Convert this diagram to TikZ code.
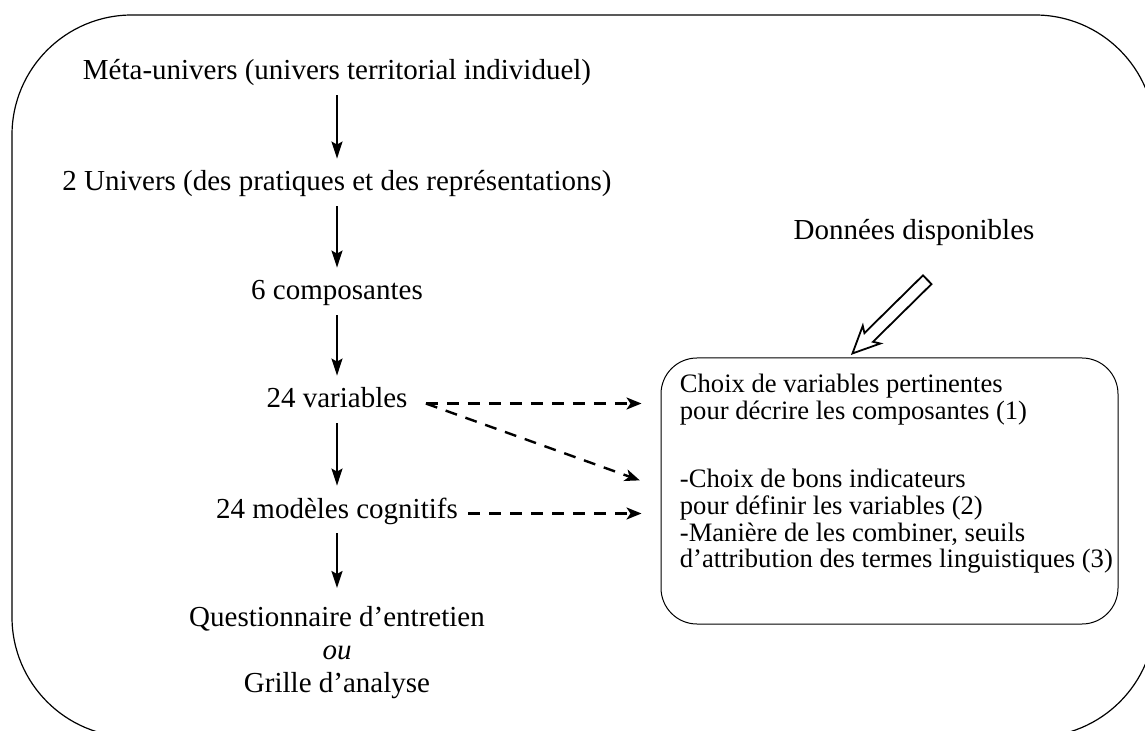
\documentclass[tikz,border=0pt]{standalone}
\usepackage{fontspec}
\setmainfont{Liberation Serif}
\usetikzlibrary{arrows.meta,shapes.arrows,positioning,calc}

\tikzset{
  level/.style={inner sep=0pt, text height=0.7em, text depth=0.25em,
    font=\fontsize{14.5}{16.5}\selectfont},
  boxtext/.style={inner sep=0pt, align=left, font=\fontsize{13.3}{13.35}\selectfont},
  flow/.style={line width=1.1pt, -{Stealth[length=8.5pt,width=5.5pt,inset=1.5pt]},
    shorten <=5pt, shorten >=9pt},
  datalink/.style={line width=1.2pt, dash pattern=on 6pt off 4.5pt,
    -{Stealth[length=7.5pt,width=6pt,inset=2pt]}},
  panel/.style={draw, rounded corners=18pt, line width=0.5pt,
    minimum width=228.5pt, minimum height=133pt},
  hollowarrow/.style={single arrow, draw, fill=white, line width=0.9pt,
    minimum height=52.5pt, inner xsep=0pt, inner ysep=2.6pt,
    single arrow head extend=3.2pt, single arrow tip angle=50,
    single arrow head indent=2pt},
}

\begin{document}
\begin{tikzpicture}[x=0.5pt,y=-0.5pt]
  \useasboundingbox (0,0) rectangle (1145,731);
  % outer frame, partly outside the page
  \draw[line width=0.6pt, rounded corners=60pt] (12,15) rectangle (1155,737);

  % main column
  \node[level, anchor=base] (meta) at (337,80) {Méta-univers (univers territorial individuel)};
  \node[level, anchor=base] (univ) at (337,191) {2 Univers (des pratiques et des représentations)};
  \node[level, anchor=base] (comp) at (337,300) {6 composantes};
  \node[level, anchor=base] (vars) at (337,408) {24 variables};
  \node[level, anchor=base] (mod) at (337,518) {24 modèles cognitifs};
  \node[inner sep=0pt, align=center, font=\fontsize{14.5}{16.5}\selectfont, anchor=north]
    (grid) at (337,606) {Questionnaire d’entretien\\\textit{ou}\\Grille d’analyse};

  \draw[flow] (meta.south) -- (univ.north);
  \draw[flow] (univ.south) -- (comp.north);
  \draw[flow] (comp.south) -- (vars.north);
  \draw[flow] (vars.south) -- (mod.north);
  \draw[flow] (mod.south) -- (grid.north);

  % data side
  \node[level, anchor=base] (dispo) at (914,240) {Données disponibles};
  \node[panel] (box) at (889.5,491) {};
  \node[boxtext, anchor=north west] (choix) at ([xshift=9.5pt,yshift=-8pt]box.north west)
    {Choix de variables pertinentes\\
     pour décrire les composantes (1)\\[21pt]
     -Choix de bons indicateurs\\
     pour définir les variables (2)\\
     -Manière de les combiner, seuils\\
     d’attribution des termes linguistiques (3)};
  \node[hollowarrow, rotate=224.6] (feed) at (894.5,312) {};

  \coordinate (vout) at ([xshift=9pt]vars.east);
  \draw[datalink, shorten >=9.5pt] (vout) -- (vout -| box.west);
  \draw[datalink, shorten >=11pt] (vout) -- ([yshift=1.6pt]box.west);
  \draw[datalink, shorten <=5pt, shorten >=9.5pt] (mod.east) -- (mod.east -| box.west);
\end{tikzpicture}
\end{document}
